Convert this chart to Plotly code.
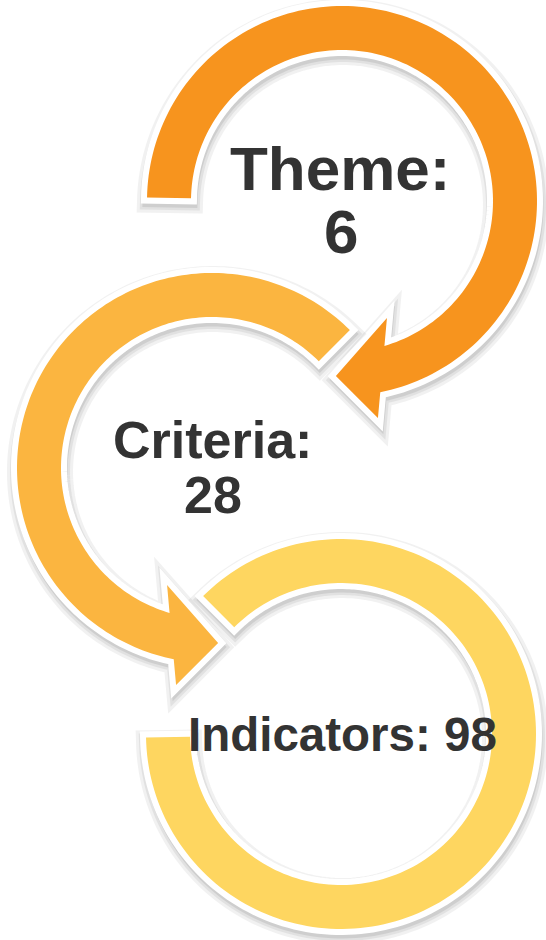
import numpy as np
import plotly.graph_objects as go

W, H = 546, 940

# ---- data ----
labels = ["Theme", "Criteria", "Indicators"]
values = [6, 28, 98]
colors = ["#F7941E", "#FBB540", "#FED660"]
text_color = "#333333"

# ---- geometry (layout only) ----
R_OUT, R_IN = 195, 151
rings = [
    dict(cx=342, cy=201, start=181, end=None, mirror=False, head=True),
    dict(cx=212, cy=468, start=225, end=None, mirror=True, head=True),
    dict(cx=341, cy=734, start=1, end=315, mirror=True, head=False),
]
# arrow head in canonical (clockwise) frame: (radius, angle deg)
HEAD_BARB_IN = (125.4, 69.0)
HEAD_BARB_OUT = (220.0, 80.6)
HEAD_TIP = (175.0, 92.0)


def polar(r, a):
    t = np.radians(a)
    return np.array([r * np.cos(t), r * np.sin(t)])


def junction_angle(rr):
    b1 = polar(*HEAD_BARB_IN)
    b2 = polar(*HEAD_BARB_OUT)
    d = b2 - b1
    a = d @ d
    b = 2 * b1 @ d
    c = b1 @ b1 - rr * rr
    t = (-b + np.sqrt(b * b - 4 * a * c)) / (2 * a)
    p = b1 + t * d
    return np.degrees(np.arctan2(p[1], p[0]))


def ring_path(ring, dx=0.0, dy=0.0):
    cx, cy = ring["cx"], ring["cy"]
    s = -1 if ring["mirror"] else 1

    def P(r, a):
        v = polar(r, a)
        return (cx + s * v[0] + dx, cy + v[1] + dy)

    pts = []
    st = ring["start"]
    if ring["head"]:
        a_out = junction_angle(R_OUT) + 360
        a_in = junction_angle(R_IN) + 360
        for a in np.linspace(st, a_out, 160):
            pts.append(P(R_OUT, a))
        pts.append(P(HEAD_BARB_OUT[0], HEAD_BARB_OUT[1] + 360))
        pts.append(P(HEAD_TIP[0], HEAD_TIP[1] + 360))
        pts.append(P(HEAD_BARB_IN[0], HEAD_BARB_IN[1] + 360))
        for a in np.linspace(a_in, st, 160):
            pts.append(P(R_IN, a))
    else:
        en = ring["end"]
        for a in np.linspace(st, en, 180):
            pts.append(P(R_OUT, a))
        for a in np.linspace(en, st, 180):
            pts.append(P(R_IN, a))
    d = "M " + " L ".join(f"{x:.2f},{y:.2f}" for x, y in pts) + " Z"
    return d


shapes = []
for ring, col in zip(rings, colors):
    # soft drop shadow
    for w, op in [(22, 0.05), (16, 0.06), (11, 0.08)]:
        shapes.append(dict(type="path", path=ring_path(ring, 1, 4), xref="x", yref="y",
                           fillcolor="#000000", line=dict(color="#000000", width=w),
                           opacity=op, layer="above"))
    # white border
    shapes.append(dict(type="path", path=ring_path(ring), xref="x", yref="y",
                       fillcolor="#FFFFFF", line=dict(color="#FFFFFF", width=12),
                       layer="above"))
    # main fill
    shapes.append(dict(type="path", path=ring_path(ring), xref="x", yref="y",
                       fillcolor=col, line=dict(width=0), layer="above"))

FONT = "Liberation Sans, Arial, sans-serif"
annotations = [
    dict(x=340, y=168, text=f"<b>{labels[0]}:</b>", size=62),
    dict(x=341, y=231, text=f"<b>{values[0]}</b>", size=62),
    dict(x=212, y=440, text=f"<b>{labels[1]}:</b>", size=52),
    dict(x=213, y=495, text=f"<b>{values[1]}</b>", size=52),
    dict(x=342, y=734, text=f"<b>{labels[2]}: {values[2]}</b>", size=47.5),
]
ann = []
for a in annotations:
    ann.append(dict(x=a["x"], y=a["y"], xref="x", yref="y", text=a["text"],
                    showarrow=False, xanchor="center", yanchor="middle",
                    font=dict(family=FONT, size=a["size"], color=text_color)))

fig = go.Figure()
fig.update_layout(
    width=W, height=H, margin=dict(l=0, r=0, t=0, b=0),
    paper_bgcolor="white", plot_bgcolor="white",
    xaxis=dict(range=[0, W], visible=False, fixedrange=True),
    yaxis=dict(range=[H, 0], visible=False, fixedrange=True),
    shapes=shapes, annotations=ann, showlegend=False,
)
fig.write_html("out.html", config={"displayModeBar": False},
               post_script="document.body.style.margin='0';document.body.style.overflow='hidden';")
